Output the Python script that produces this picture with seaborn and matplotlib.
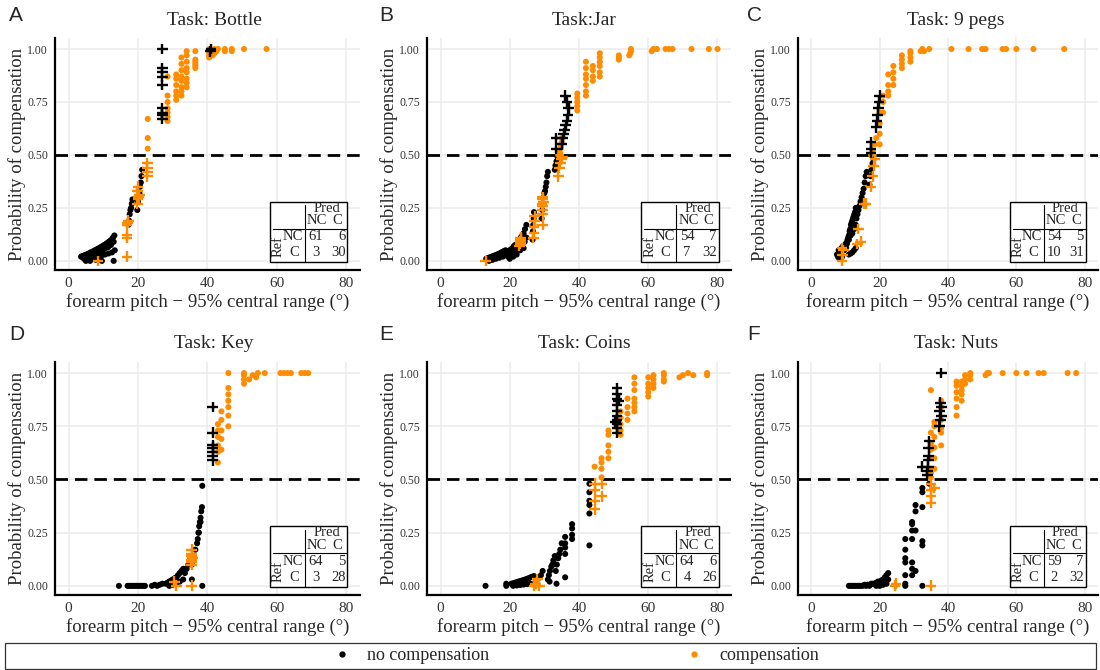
import numpy as np
import pandas as pd
import seaborn as sns
import matplotlib.pyplot as plt
from matplotlib.lines import Line2D
from matplotlib.patches import Rectangle

# ---- data: x = forearm pitch range, p = probability ----
# Bottle
a_nc_x = [3.6, 4.0, 4.4, 4.8, 5.2, 5.6, 6.0, 6.4, 6.8, 7.2, 7.6, 8.0, 8.4, 8.8, 9.2, 9.6, 10.0, 10.4, 10.8, 11.2, 11.6, 12.0, 12.4, 12.8, 13.2,
          4.2, 5.0, 5.8, 6.6, 7.4, 8.2, 9.0, 9.8, 10.6, 11.4, 12.2, 13.0,
          4.5, 5.5, 6.5, 7.5, 8.5, 9.5, 10.5, 11.5, 12.5, 13.3,
          5.0, 6.2, 7.8, 9.6, 13.0,
          17.2, 17.4, 17.6, 17.8, 18.0, 18.2, 18.4,
          19.8, 20.0, 20.2, 20.4, 20.6, 20.8, 21.0, 21.2,
          27.0, 27.0, 27.0, 27.0, 27.0, 27.0, 27.0, 27.0, 27.0,
          40.8, 41.0]
a_nc_p = [0.02, 0.022, 0.025, 0.028, 0.03, 0.033, 0.036, 0.04, 0.043, 0.046, 0.05, 0.053, 0.057, 0.06, 0.064, 0.068, 0.072, 0.076, 0.08, 0.085, 0.09, 0.096, 0.10, 0.11, 0.12,
          0.015, 0.02, 0.025, 0.03, 0.035, 0.04, 0.045, 0.05, 0.06, 0.065, 0.075, 0.09,
          0.01, 0.012, 0.015, 0.018, 0.02, 0.025, 0.03, 0.035, 0.04, 0.05,
          0.0, 0.0, 0.005, 0.0, 0.0,
          0.17, 0.19, 0.22, 0.24, 0.25, 0.27, 0.29,
          0.24, 0.28, 0.3, 0.32, 0.35, 0.37, 0.4, 0.43,
          0.67, 0.69, 0.70, 0.72, 0.83, 0.87, 0.89, 0.91, 1.0,
          0.99, 1.0]
a_c_x = [8.5, 16.8, 16.8, 16.8, 16.8, 17.0, 17.2, 19.8, 20.0, 19.8, 20.0, 20.2, 20.4, 22.7, 22.7, 22.7, 22.7, 22.8, 22.8, 22.8,
         28.5, 28.5, 28.5, 28.5, 28.5, 28.5, 28.5, 31.0, 31.0, 31.0, 31.0, 31.0, 31.0, 32.5, 32.5, 32.5, 32.5, 32.5, 32.5, 32.5, 32.5,
         34.0, 34.0, 34.0, 34.0, 34.0, 34.0, 34.0, 34.0, 36.5, 36.5, 36.5, 36.5, 36.5, 36.5, 40.5, 40.5, 40.5, 40.5, 40.5,
         41.5, 42.0, 42.5, 43.0, 42.0, 42.5, 45.0, 45.0, 47.0, 47.0, 50.5, 57.0]
a_c_p = [0.0, 0.02, 0.11, 0.12, 0.17, 0.18, 0.19, 0.33, 0.35, 0.27, 0.29, 0.30, 0.31, 0.40, 0.42, 0.44, 0.46, 0.53, 0.58, 0.67,
         0.66, 0.68, 0.70, 0.72, 0.75, 0.78, 0.87, 0.76, 0.78, 0.80, 0.83, 0.86, 0.88, 0.78, 0.80, 0.82, 0.85, 0.87, 0.90, 0.93, 0.96,
         0.82, 0.84, 0.86, 0.89, 0.91, 0.94, 0.97, 0.99, 0.91, 0.92, 0.93, 0.94, 0.95, 0.99, 0.96, 0.97, 0.98, 0.99, 1.0,
         0.97, 0.98, 0.99, 1.0, 1.0, 0.99, 0.99, 1.0, 0.99, 1.0, 1.0, 1.0]

# Jar
b_nc_x = [13.2, 13.6, 14.0, 14.4, 14.8, 15.2, 15.6, 16.0, 16.4, 16.8, 17.2, 17.6, 18.0, 18.4, 18.8,
          14.0, 15.0, 16.0, 17.0, 18.0,
          19.2, 19.6, 20.0, 20.4, 20.8, 21.2, 21.6, 22.0, 22.4, 22.8, 23.2, 23.6, 24.0, 24.4, 24.8,
          19.5, 20.3, 21.1, 21.9, 22.7, 23.5, 24.3, 24.8,
          20.0, 21.0, 22.0, 23.0, 24.0,
          26.6, 26.7, 26.8, 26.9, 27.0,
          29.2, 29.4, 29.6, 29.8, 30.0, 30.2, 30.4, 30.6, 30.8, 31.0,
          33.0, 33.2, 33.5, 33.8, 34.0,
          33.5, 33.5, 35.0, 35.3, 35.6, 35.9, 36.2, 36.5, 36.8, 37.0, 36.5, 36.0]
b_nc_p = [0.01, 0.012, 0.015, 0.017, 0.02, 0.022, 0.025, 0.027, 0.03, 0.033, 0.036, 0.04, 0.043, 0.047, 0.05,
          0.0, 0.005, 0.01, 0.015, 0.02,
          0.03, 0.04, 0.05, 0.055, 0.06, 0.07, 0.075, 0.08, 0.09, 0.1, 0.11, 0.12, 0.13, 0.15, 0.17,
          0.02, 0.03, 0.04, 0.05, 0.06, 0.07, 0.09, 0.11,
          0.01, 0.02, 0.03, 0.05, 0.06,
          0.1, 0.14, 0.17, 0.2, 0.23,
          0.2, 0.24, 0.27, 0.3, 0.32, 0.33, 0.35, 0.37, 0.4, 0.42,
          0.43, 0.45, 0.47, 0.49, 0.46,
          0.53, 0.58, 0.55, 0.58, 0.60, 0.62, 0.64, 0.66, 0.69, 0.72, 0.75, 0.78]
b_c_x = [13.0, 23.0, 23.2, 22.8, 23.0, 23.2, 26.8, 27.0, 27.0, 27.2, 27.2, 29.5, 29.5, 29.5, 29.5, 29.5, 29.3, 29.7, 29.5,
         34.0, 34.3, 34.6, 34.9, 35.2, 34.0, 34.4, 34.8, 35.0, 35.2, 34.6,
         39.5, 39.5, 39.5, 39.5, 39.5, 42.0, 42.0, 42.0, 42.0, 42.0, 42.0, 42.0, 44.0, 44.0, 44.0, 44.0, 46.0, 46.0, 46.0, 46.0, 46.0, 46.0,
         51.5, 51.5, 51.5, 54.5, 54.8, 55.0, 55.0, 61.0, 61.5, 62.5, 65.0, 66.0, 67.0, 72.5, 77.5, 80.0]
b_c_p = [0.0, 0.08, 0.10, 0.07, 0.09, 0.11, 0.11, 0.13, 0.16, 0.19, 0.21, 0.17, 0.22, 0.24, 0.26, 0.29, 0.27, 0.28, 0.30,
         0.40, 0.44, 0.46, 0.48, 0.49, 0.50, 0.52, 0.54, 0.56, 0.58, 0.53,
         0.71, 0.73, 0.75, 0.77, 0.79, 0.78, 0.80, 0.83, 0.86, 0.88, 0.91, 0.94, 0.85, 0.87, 0.90, 0.92, 0.87, 0.89, 0.92, 0.94, 0.96, 0.98,
         0.95, 0.96, 0.97, 0.97, 0.98, 0.99, 1.0, 0.99, 1.0, 1.0, 1.0, 1.0, 1.0, 1.0, 1.0, 1.0]

# 9 pegs
c_nc_x = [7.5, 7.8, 8.0, 8.2, 8.5, 8.8, 9.0, 9.3, 9.6, 10.0,
          10.2, 10.4, 10.6, 10.8, 11.0, 11.2, 11.4, 11.6, 11.8, 12.0, 12.2, 12.4, 12.6, 12.8, 13.0,
          10.5, 11.0, 11.5, 12.0, 12.5, 13.0,
          13.2, 13.5, 13.8, 14.1, 14.4, 14.7, 15.0, 15.3, 15.6, 15.9, 16.2,
          17.0, 17.3, 17.6, 17.9, 18.2,
          11.0, 11.5, 12.0, 12.5, 13.0,
          17.5, 17.5, 17.5, 19.0, 19.2, 19.4, 19.6, 19.8, 20.0]
c_nc_p = [0.03, 0.02, 0.05, 0.01, 0.04, 0.06, 0.02, 0.07, 0.05, 0.08,
          0.06, 0.08, 0.1, 0.11, 0.12, 0.14, 0.15, 0.17, 0.18, 0.19, 0.2, 0.21, 0.22, 0.23, 0.25,
          0.09, 0.1, 0.12, 0.13, 0.15, 0.17,
          0.2, 0.22, 0.24, 0.26, 0.28, 0.3, 0.32, 0.34, 0.37, 0.4, 0.42,
          0.36, 0.4, 0.43, 0.46, 0.48,
          0.03, 0.035, 0.04, 0.05, 0.06,
          0.51, 0.53, 0.56, 0.63, 0.66, 0.69, 0.72, 0.75, 0.78]
c_c_x = [9.0, 9.2, 9.4, 9.0, 14.5, 15.5, 16.0, 17.5, 18.0, 18.3, 18.6, 13.5, 13.8,
         17.5, 18.0, 18.5, 19.0, 20.0, 20.0, 20.0, 20.0, 21.0, 21.0, 21.0, 22.5, 22.5, 22.5, 22.5, 24.0, 24.0, 24.0, 24.0,
         26.5, 26.5, 26.5, 26.5, 29.0, 29.0, 29.0, 29.0, 32.0, 32.5, 33.0, 34.5,
         41.0, 46.0, 50.0, 51.0, 56.0, 57.0, 60.0, 65.0, 74.0]
c_c_p = [0.0, 0.03, 0.05, 0.06, 0.09, 0.27, 0.27, 0.35, 0.40, 0.45, 0.48, 0.08, 0.15,
         0.50, 0.52, 0.55, 0.58, 0.55, 0.60, 0.65, 0.70, 0.70, 0.75, 0.78, 0.78, 0.80, 0.83, 0.88, 0.83, 0.86, 0.89, 0.92,
         0.91, 0.93, 0.95, 0.97, 0.94, 0.96, 0.98, 0.99, 0.99, 1.0, 0.99, 1.0,
         1.0, 1.0, 1.0, 1.0, 1.0, 1.0, 1.0, 1.0, 1.0]

# Key
d_nc_x = [14.5, 17.0, 17.5, 18.0, 18.5, 19.0, 19.5, 20.0, 20.5, 21.0, 21.5, 22.0, 24.0, 24.8, 25.5, 26.2, 27.0,
          28.0, 28.5, 29.0, 29.5, 30.0, 30.5, 31.0, 31.5, 32.0, 32.5, 33.0, 29.0, 30.0, 31.0, 32.0, 33.0,
          33.5, 34.0, 34.5, 35.0, 35.5, 36.0, 36.5, 37.0, 37.2, 37.4, 37.6, 37.8, 38.0, 38.2, 38.4, 37.5, 38.0,
          38.5, 38.5, 35.5,
          41.5, 41.5, 41.5, 41.5, 41.5, 41.5, 41.5]
d_nc_p = [0.0, 0.0, 0.0, 0.0, 0.0, 0.0, 0.0, 0.0, 0.0, 0.0, 0.0, 0.0, 0.0, 0.005, 0.0, 0.005, 0.01,
          0.01, 0.015, 0.02, 0.025, 0.03, 0.035, 0.04, 0.05, 0.06, 0.07, 0.08, 0.0, 0.005, 0.01, 0.02, 0.03,
          0.06, 0.08, 0.1, 0.12, 0.1, 0.14, 0.17, 0.2, 0.22, 0.25, 0.28, 0.3, 0.32, 0.35, 0.37, 0.25, 0.3,
          0.47, 0.0, 0.03,
          0.59, 0.61, 0.63, 0.65, 0.66, 0.72, 0.84]
d_c_x = [31.0, 30.5, 35.5, 35.5, 35.5, 35.5, 35.5, 35.3, 35.7, 35.5,
         43.0, 43.0, 43.0, 43.0, 43.0, 43.0, 44.0, 44.0, 44.0, 44.0, 44.0, 46.0, 46.0, 46.0, 46.0, 46.0, 46.0, 46.0,
         50.5, 50.5, 50.5, 50.5, 52.0, 53.0, 54.0, 54.5, 56.5, 61.0, 62.0, 63.0, 64.0, 67.0, 68.0, 69.0]
d_c_p = [0.0, 0.02, 0.0, 0.10, 0.12, 0.14, 0.17, 0.11, 0.13, 0.15,
         0.58, 0.63, 0.66, 0.70, 0.73, 0.76, 0.64, 0.69, 0.73, 0.78, 0.82, 0.75, 0.80, 0.84, 0.87, 0.90, 0.93, 1.0,
         0.95, 0.97, 0.99, 1.0, 0.97, 0.99, 0.98, 1.0, 1.0, 1.0, 1.0, 1.0, 1.0, 1.0, 1.0, 1.0]

# Coins
e_nc_x = [13.0, 19.0, 19.0,
          20.5, 21.0, 21.5, 22.0, 22.5, 23.0, 23.5, 24.0, 24.5, 25.0, 25.5, 26.0, 26.5, 27.0,
          21.0, 22.0, 23.0, 24.0, 25.0, 26.0,
          27.5, 28.0, 28.5, 29.0, 29.5,
          31.0, 31.3, 31.6, 32.0, 32.3, 32.6, 33.0, 31.5, 32.5,
          33.3, 33.6, 34.0, 34.3, 34.6, 35.0, 33.5,
          36.0, 36.0, 36.0, 36.0, 36.0, 38.0, 38.0, 38.0, 38.0,
          43.0, 43.0, 43.0, 43.0, 43.0, 43.0,
          51.0, 51.0, 51.0, 51.0, 51.0, 51.0, 51.0, 51.0, 51.0, 51.0, 50.5, 51.5]
e_nc_p = [0.0, 0.0, 0.01,
          0.01, 0.012, 0.015, 0.017, 0.02, 0.022, 0.025, 0.027, 0.03, 0.033, 0.036, 0.04, 0.043, 0.046,
          0.0, 0.002, 0.004, 0.006, 0.008, 0.01,
          0.02, 0.03, 0.04, 0.05, 0.07,
          0.03, 0.05, 0.07, 0.09, 0.1, 0.12, 0.14, 0.02, 0.1,
          0.07, 0.1, 0.13, 0.15, 0.17, 0.2, 0.01,
          0.04, 0.15, 0.18, 0.2, 0.23, 0.22, 0.24, 0.27, 0.29,
          0.19, 0.34, 0.38, 0.40, 0.44, 0.48,
          0.72, 0.74, 0.76, 0.78, 0.80, 0.82, 0.85, 0.88, 0.90, 0.93, 0.77, 0.87]
e_c_x = [27.0, 27.5, 28.0, 28.5, 44.5, 44.5, 44.5, 44.5, 46.5, 46.5,
         44.5, 46.5, 46.5, 46.5, 46.5, 48.5, 48.5, 48.5, 48.5, 48.5, 52.0, 52.0, 52.0, 52.0, 52.0, 54.0, 54.0, 54.0, 54.0,
         56.0, 56.0, 56.0, 56.0, 56.0, 56.0, 56.0, 60.0, 60.0, 60.0, 60.0, 60.0, 61.5, 61.5, 61.5, 61.5, 64.5, 64.5, 64.5, 64.5,
         69.0, 70.0, 71.5, 73.0, 77.0, 77.0]
e_c_p = [0.0, 0.01, 0.03, 0.0, 0.36, 0.40, 0.45, 0.48, 0.42, 0.48,
         0.56, 0.51, 0.55, 0.58, 0.60, 0.60, 0.63, 0.66, 0.71, 0.73, 0.71, 0.73, 0.76, 0.79, 0.82, 0.78, 0.81, 0.84, 0.88,
         0.82, 0.84, 0.86, 0.88, 0.92, 0.95, 0.98, 0.89, 0.91, 0.93, 0.95, 0.98, 0.93, 0.95, 0.97, 0.99, 0.96, 0.97, 0.99, 1.0,
         0.98, 0.99, 1.0, 0.99, 0.99, 1.0]

# Nuts
f_nc_x = [11.0, 11.5, 12.0, 12.5, 13.0, 13.5, 14.0, 14.5, 15.0, 15.5, 16.0, 16.5, 17.0, 17.5, 18.0,
          18.5, 19.0, 19.5, 20.0, 20.5, 21.0, 21.5, 22.0, 22.5, 19.0, 20.0, 21.0, 22.0, 22.5,
          27.5, 27.5, 27.5, 27.5, 27.5, 27.5, 27.5,
          29.5, 29.5, 29.5, 29.5, 29.5, 29.5, 29.5,
          30.5, 30.5, 30.5, 30.5,
          32.5, 32.5, 32.5, 32.5, 32.5, 32.5, 34.5,
          32.5, 34.0, 34.0, 34.2, 34.2, 34.4, 34.4, 34.5,
          37.5, 37.8, 38.0, 37.6, 38.0, 37.8, 38.0]
f_nc_p = [0.0, 0.0, 0.0, 0.0, 0.0, 0.0, 0.0, 0.0, 0.0, 0.005, 0.0, 0.005, 0.0, 0.01, 0.01,
          0.01, 0.015, 0.02, 0.02, 0.025, 0.03, 0.04, 0.05, 0.06, 0.0, 0.0, 0.005, 0.01, 0.03,
          0.0, 0.01, 0.05, 0.11, 0.13, 0.17, 0.22,
          0.05, 0.08, 0.11, 0.22, 0.26, 0.29, 0.30,
          0.07, 0.26, 0.35, 0.38,
          0.0, 0.19, 0.21, 0.37, 0.44, 0.46, 0.48,
          0.56, 0.52, 0.54, 0.56, 0.59, 0.61, 0.65, 0.68,
          0.75, 0.78, 0.80, 0.82, 0.84, 0.86, 1.0]
f_c_x = [24.5, 24.8, 35.0, 35.0, 35.0, 35.0, 35.0, 36.0,
         35.0, 35.0, 35.0, 35.0, 35.0, 35.0, 35.0, 35.0, 36.0, 36.0, 36.0, 36.0, 36.0, 36.0, 38.0, 38.0, 38.0, 38.0, 38.0, 38.0,
         42.5, 42.5, 42.5, 42.5, 42.5, 42.5, 44.0, 44.0, 44.0, 44.0, 44.0, 45.0, 45.0, 45.0, 46.5, 46.5, 46.5,
         51.0, 51.5, 52.0, 56.0, 60.0, 63.0, 66.5, 68.0, 75.0, 77.5]
f_c_p = [0.0, 0.01, 0.0, 0.39, 0.42, 0.45, 0.48, 0.46,
         0.51, 0.53, 0.55, 0.60, 0.64, 0.67, 0.72, 0.92, 0.55, 0.60, 0.65, 0.70, 0.75, 0.77, 0.66, 0.72, 0.74, 0.78, 0.84, 0.87,
         0.80, 0.84, 0.88, 0.91, 0.94, 0.96, 0.87, 0.90, 0.92, 0.94, 0.96, 0.95, 0.97, 0.99, 0.97, 0.99, 1.0,
         0.99, 1.0, 1.0, 1.0, 1.0, 1.0, 1.0, 1.0, 1.0, 1.0]

titles = ['Task: Bottle', 'Task:Jar', 'Task: 9 pegs', 'Task: Key', 'Task: Coins', 'Task: Nuts']
letters = ['A', 'B', 'C', 'D', 'E', 'F']
# confusion tables: [[NC->NC, NC->C], [C->NC, C->C]]
conf = [[[61, 6], [3, 30]], [[54, 7], [7, 32]], [[54, 5], [10, 31]],
        [[64, 5], [3, 28]], [[64, 6], [4, 26]], [[59, 7], [2, 32]]]
panels = [(a_nc_x, a_nc_p, a_c_x, a_c_p), (b_nc_x, b_nc_p, b_c_x, b_c_p), (c_nc_x, c_nc_p, c_c_x, c_c_p),
          (d_nc_x, d_nc_p, d_c_x, d_c_p), (e_nc_x, e_nc_p, e_c_x, e_c_p), (f_nc_x, f_nc_p, f_c_x, f_c_p)]

ORANGE = '#ff8c00'
pal = {'no compensation': 'black', 'compensation': ORANGE}

sns.set_style('white')
plt.rcParams['font.family'] = ['Liberation Serif', 'DejaVu Serif']

W, H = 1100, 670
fig = plt.figure(figsize=(11, 6.7), dpi=100)

col_left = [55, 427, 798]
col_width = [305, 304, 300]
row_top = [38, 362]
row_bottom = [270, 595]
title_cx = [214, 584, 956]
title_base = [25, 348]
letter_x = [9, 379, 747]
letter_top = [6, 325]

for i in range(6):
    r, c = divmod(i, 3)
    ax = fig.add_axes([col_left[c] / W, 1 - row_bottom[r] / H, col_width[c] / W,
                       (row_bottom[r] - row_top[r]) / H])
    nc_x, nc_p, c_x, c_p = panels[i]
    df = pd.concat([pd.DataFrame({'x': nc_x, 'p': nc_p, 'ref': 'no compensation'}),
                    pd.DataFrame({'x': c_x, 'p': c_p, 'ref': 'compensation'})], ignore_index=True)
    df['wrong'] = (df.p >= 0.5) != (df.ref == 'compensation')

    ax.axhline(0.5, color='black', lw=2.0, ls=(0, (4.5, 2.5)), zorder=1)
    sns.scatterplot(data=df[~df.wrong], x='x', y='p', hue='ref', palette=pal, s=19,
                    edgecolor='none', legend=False, ax=ax, zorder=3)
    sns.scatterplot(data=df[df.wrong], x='x', y='p', hue='ref', palette=pal, marker='+', s=60,
                    linewidth=1.7, legend=False, ax=ax, zorder=4)

    ax.set_xlim(-3.9, 83.9)
    ax.set_ylim(-0.043, 1.052)
    ax.set_xticks([0, 20, 40, 60, 80])
    ax.set_yticks([0, 0.25, 0.5, 0.75, 1.0])
    ax.set_yticklabels(['0.00', '0.25', '0.50', '0.75', '1.00'])
    ax.grid(color='#ebebeb', lw=1.1)
    ax.set_axisbelow(True)
    for s in ['top', 'right']:
        ax.spines[s].set_visible(False)
    for s in ['left', 'bottom']:
        ax.spines[s].set_color('black')
        ax.spines[s].set_linewidth(1.6)
    ax.tick_params(axis='x', labelsize=11, length=3, width=1, color='#333333', labelcolor='#333333', pad=2)
    ax.tick_params(axis='y', labelsize=8.5, length=3, width=1, color='#333333', labelcolor='#333333', pad=2)
    ax.set_xlabel('forearm pitch \u2212 95% central range (\u00b0)', fontsize=13.5, labelpad=2)
    ax.set_ylabel('Probability of compensation', fontsize=13.5, labelpad=0.5)

    # confusion table box in data coordinates
    bx0, bx1, by0, by1 = 58.0, 80.3, -0.004, 0.28
    bw, bh = bx1 - bx0, by1 - by0
    ax.add_patch(Rectangle((bx0, by0), bw, bh, fill=True, fc='white', ec='black', lw=1.0, zorder=6))
    ux = lambda u: bx0 + u * bw
    vy = lambda v: by0 + v * bh
    ax.plot([ux(0.455), ux(0.455)], [vy(0.0), vy(0.94)], color='black', lw=0.8, zorder=7)
    ax.plot([ux(0.04), ux(0.99)], [vy(0.55), vy(0.55)], color='black', lw=0.8, zorder=7)
    tk = dict(fontsize=10.5, zorder=8, va='center')
    ax.text(ux(0.73), vy(0.89), 'Pred', ha='center', **tk)
    ax.text(ux(0.61), vy(0.69), 'NC', ha='center', **tk)
    ax.text(ux(0.87), vy(0.69), 'C', ha='center', **tk)
    ax.text(ux(0.43), vy(0.42), 'NC', ha='right', **tk)
    ax.text(ux(0.37), vy(0.15), 'C', ha='right', **tk)
    t = conf[i]
    ax.text(ux(0.59), vy(0.42), str(t[0][0]), ha='center', **tk)
    ax.text(ux(0.97), vy(0.42), str(t[0][1]), ha='right', **tk)
    ax.text(ux(0.59), vy(0.15), str(t[1][0]), ha='center', **tk)
    ax.text(ux(0.98), vy(0.15), str(t[1][1]), ha='right', **tk)
    ax.text(ux(0.11), vy(0.25), 'Ref', ha='center', rotation=90, **tk)

    fig.text(title_cx[c] / W, 1 - title_base[r] / H, titles[i], ha='center', va='baseline', fontsize=14)
    fig.text(letter_x[c] / W, 1 - letter_top[r] / H, letters[i], ha='left', va='top', fontsize=15,
             family=['Liberation Sans', 'DejaVu Sans'])

# legend strip at the bottom
fig.patches.append(Rectangle((5 / W, 1 / H), 1091 / W, 26 / H, transform=fig.transFigure,
                             fill=False, ec='#333333', lw=0.9))
handles = [Line2D([], [], marker='o', ls='', color='black', ms=3.5, label='no compensation'),
           Line2D([], [], marker='o', ls='', color=ORANGE, ms=3.5, label='compensation')]
fig.legend(handles=handles, loc='center', bbox_to_anchor=(575 / W, 1 - 656 / H), ncol=2, frameon=False,
           fontsize=13, handlelength=1.2, handletextpad=0.8, columnspacing=10.7)

fig.savefig('out.png', dpi=100)
